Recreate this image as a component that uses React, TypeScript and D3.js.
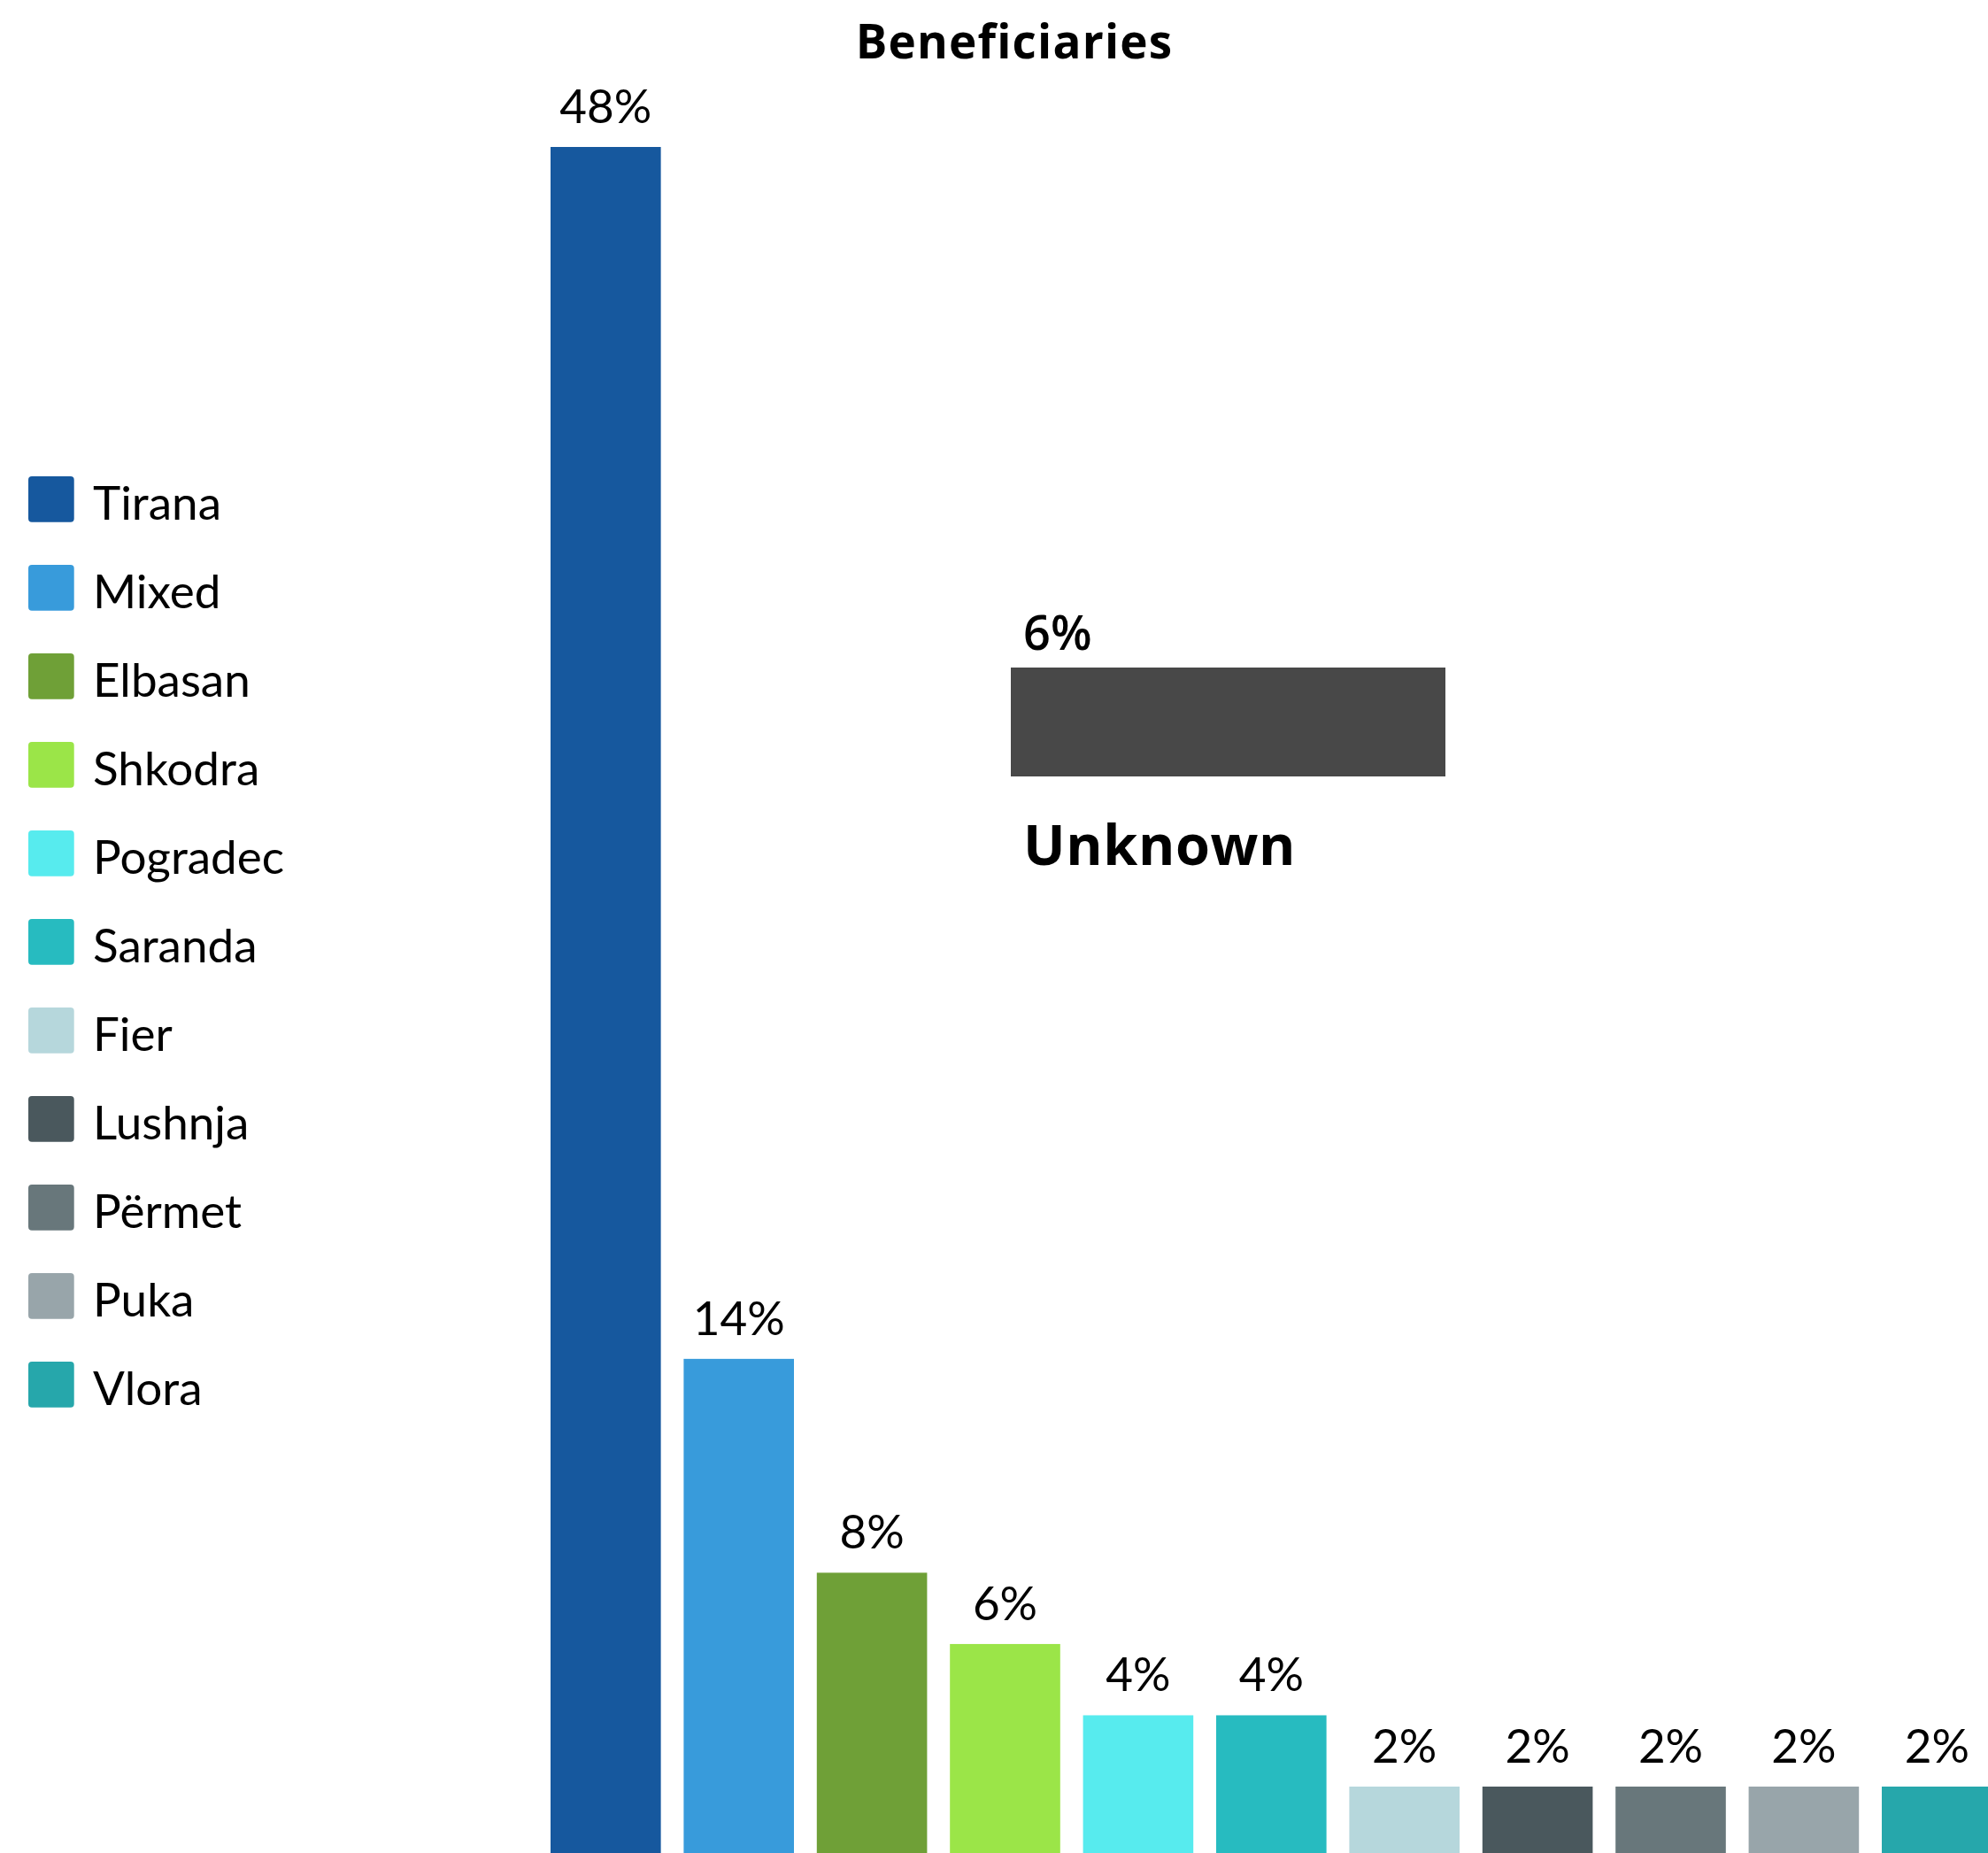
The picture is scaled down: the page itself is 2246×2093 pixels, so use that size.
import React from "react";
import * as d3 from "d3";

const categories = ["Tirana", "Mixed", "Elbasan", "Shkodra", "Pogradec", "Saranda", "Fier", "Lushnja", "Përmet", "Puka", "Vlora"];
const values = [48, 14, 8, 6, 4, 4, 2, 2, 2, 2, 2];
const colors = ["#16589E", "#389BDB", "#6FA037", "#9BE548", "#57EBEE", "#27BBC0", "#B6D7DC", "#4A585D", "#68777B", "#98A5AA", "#26A7AB"];
const unknownLabel = "Unknown";
const unknownValue = 6;
const unknownColor = "#484848";
const title = "Beneficiaries";

const W = 2246;
const H = 2093;

export default function App() {
  const x = d3.scaleBand<string>().domain(categories).range([622, 2250.6]).paddingInner(0.1715).paddingOuter(0);
  const y = d3.scaleLinear().domain([0, 48]).range([2098.5, 166]);
  const ux = d3.scaleLinear().domain([0, unknownValue]).range([1142, 1633]);
  const legendY = d3.scaleBand<string>().domain(categories).range([538, 538 + 11 * 100]).paddingInner(0);
  const fmt = (v: number) => `${v}%`;

  return (
    <svg width={W} height={H} style={{ position: "absolute", left: 0, top: 0, background: "#fff" }}>
      <rect x={0} y={0} width={W} height={H} fill="#fff" />
      <text x={1146} y={65.7} textAnchor="middle" fontFamily="'Open Sans', sans-serif" fontWeight={700} fontSize={53} letterSpacing={1.2} fill="#000">
        {title}
      </text>
      {categories.map((c, i) => (
        <g key={c}>
          <rect x={x(c)} y={y(values[i])} width={x.bandwidth()} height={y(0) - y(values[i])} fill={colors[i]} />
          <text
            x={(x(c) as number) + x.bandwidth() / 2}
            y={y(values[i]) - 27.3}
            textAnchor="middle"
            fontFamily="Lato, sans-serif"
            fontSize={53}
            fill="#000"
          >
            {fmt(values[i])}
          </text>
        </g>
      ))}
      {categories.map((c, i) => (
        <g key={"lg" + c} transform={`translate(0,${legendY(c)})`}>
          <rect x={32} y={0} width={51.7} height={51.7} rx={4} ry={4} fill={colors[i]} />
          <text x={105} y={48.7} fontFamily="Lato, sans-serif" fontSize={53} fill="#000">
            {c}
          </text>
        </g>
      ))}
      <rect x={ux(0)} y={754} width={ux(unknownValue) - ux(0)} height={123} fill={unknownColor} />
      <text x={1156} y={734.3} fontFamily="'Open Sans', sans-serif" fontWeight={600} fontSize={54} fill="#000">
        {fmt(unknownValue)}
      </text>
      <text x={1156} y={977.3} fontFamily="'Open Sans', sans-serif" fontWeight={700} fontSize={63} letterSpacing={0.6} fill="#000">
        {unknownLabel}
      </text>
    </svg>
  );
}
